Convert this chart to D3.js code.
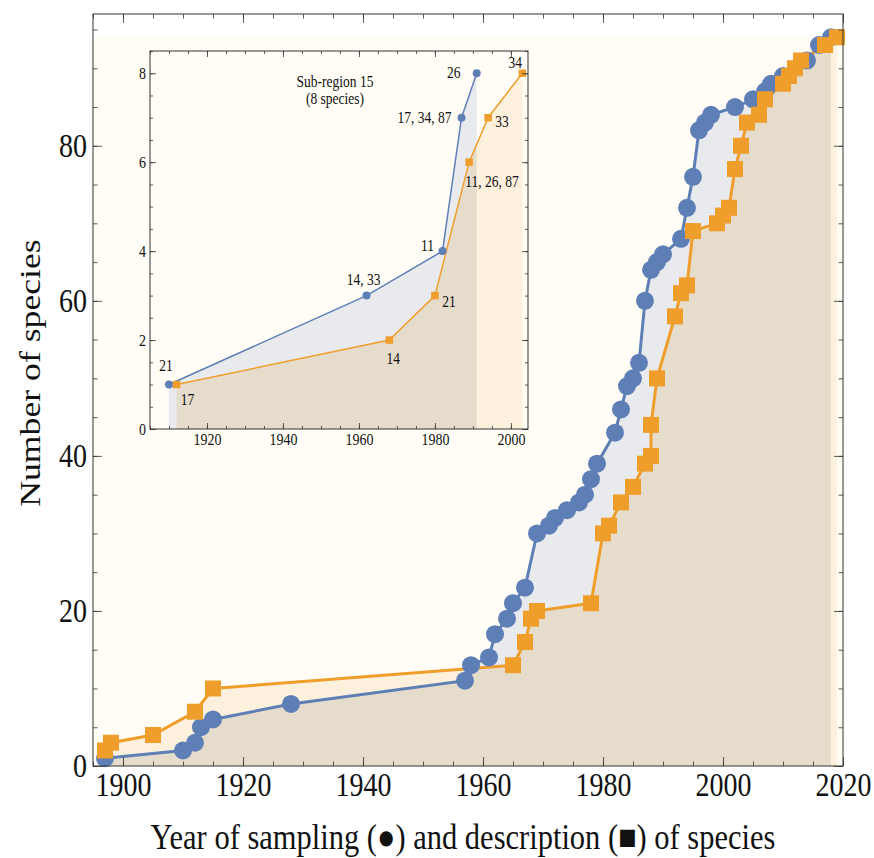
<!DOCTYPE html>
<html>
<head>
<meta charset="utf-8">
<script src="https://cdn.jsdelivr.net/npm/d3@7"></script>
<style>
body{margin:0;background:#fff}
svg{display:block}
text{font-family:"Liberation Serif","Times New Roman",serif;fill:#111}
</style>
</head>
<body>
<svg id="chart" width="874" height="858"></svg>
<script>
// main plot: sampling (blue circles) and description (orange squares)
var sampYears=[1897,1910,1912,1913,1915,1928,1957,1958,1961,1962,1964,1965,1967,1969,1971,1972,1974,1976,1977,1978,1979,1982,1983,1984,1985,1986,1987,1988,1989,1990,1993,1994,1995,1996,1997,1998,2002,2005,2007,2008,2010,2014,2016,2018];
var sampCounts=[1,2,3,5,6,8,11,13,14,17,19,21,23,30,31,32,33,34,35,37,39,43,46,49,50,52,60,64,65,66,68,72,76,82,83,84,85,86,87,88,89,91,93,94];
var descYears=[1897,1898,1905,1912,1915,1965,1967,1968,1969,1978,1980,1981,1983,1985,1987,1988,1988,1989,1992,1993,1994,1995,1999,2000,2001,2002,2003,2004,2006,2007,2010,2011,2012,2013,2017,2019];
var descCounts=[2,3,4,7,10,13,16,19,20,21,30,31,34,36,39,40,44,50,58,61,62,69,70,71,72,77,80,83,84,86,88,89,90,91,93,94];
var xTicks=[1900,1920,1940,1960,1980,2000,2020];
var yTicks=[0,20,40,60,80];

// inset: sub-region 15
var inSampYears=[1910,1962,1982,1987,1991];
var inSampCounts=[1,3,4,7,8];
var inSampLabels=["21","14, 33","11","17, 34, 87","26"];
var inDescYears=[1912,1968,1980,1989,1994,2003];
var inDescCounts=[1,2,3,6,7,8];
var inDescLabels=["17","14","21","11, 26, 87","33","34"];
var inXTicks=[1920,1940,1960,1980,2000];
var inYTicks=[0,2,4,6,8];

// label offsets (px) from the marker to the label centre, layout only
var inSampOff=[[-3,-19],[-3,-16],[-15,-5],[-37,0],[-23,0]];
var inDescOff=[[11,15],[4,19],[14,6],[23,20],[14,4],[-7,-10]];

var blue="#5d7fb6", orange="#ef9e2c";
var bgCol="#fffdf5", grayFill="#e9eaee", creamFill="#fdf1dd", tanFill="#e6dccb";
var sy=1.17; // text in the original is drawn a bit taller than wide

var svg=d3.select("#chart");
var defs=svg.append("defs");

function label(g,x,y,txt,size,anchor){
  return g.append("text")
    .attr("transform","translate("+x+","+y+") scale(1,"+sy+")")
    .attr("text-anchor",anchor||"middle").attr("dy","0.33em")
    .attr("font-size",size).text(txt);
}

function panel(g,opt){
  var x=d3.scaleLinear().domain(opt.xd).range(opt.xr);
  var y=d3.scaleLinear().domain(opt.yd).range(opt.yr);
  var s=d3.zip(opt.sy,opt.sc), d=d3.zip(opt.dy,opt.dc);
  var area=d3.area().x(function(p){return x(p[0]);}).y0(y(0)).y1(function(p){return y(p[1]);});
  var line=d3.line().x(function(p){return x(p[0]);}).y(function(p){return y(p[1]);});

  g.append("rect")
   .attr("x",opt.xr[0]).attr("width",opt.xr[1]-opt.xr[0])
   .attr("y",y(opt.bgTop)).attr("height",y(0)-y(opt.bgTop))
   .attr("fill",bgCol);

  defs.append("clipPath").attr("id",opt.id+"clip")
      .append("path").attr("d",area(d));
  g.append("path").attr("d",area(d)).attr("fill",creamFill);
  g.append("path").attr("d",area(s)).attr("fill",grayFill);
  g.append("path").attr("d",area(s)).attr("fill",tanFill)
   .attr("clip-path","url(#"+opt.id+"clip)");

  g.append("path").attr("d",line(s)).attr("fill","none")
   .attr("stroke",blue).attr("stroke-width",opt.lw);
  g.append("path").attr("d",line(d)).attr("fill","none")
   .attr("stroke",orange).attr("stroke-width",opt.lw);

  g.selectAll("circle.s").data(s).enter().append("circle")
   .attr("cx",function(p){return x(p[0]);})
   .attr("cy",function(p){return y(p[1]);})
   .attr("r",opt.r).attr("fill",blue);
  g.selectAll("rect.d").data(d).enter().append("rect")
   .attr("x",function(p){return x(p[0])-opt.sq/2;})
   .attr("y",function(p){return y(p[1])-opt.sq/2;})
   .attr("width",opt.sq).attr("height",opt.sq).attr("fill",orange);

  // frame ticks, pointing inward
  function ax(axis,tx,ty,vals,len,lab){
    var a=axis.tickValues(vals).tickSize(-len).tickPadding(opt.pad)
      .tickFormat(lab?d3.format("d"):"");
    var gg=g.append("g").attr("transform","translate("+tx+","+ty+")").call(a);
    gg.select(".domain").remove();
    gg.selectAll("line").attr("stroke","#333").attr("stroke-width",0.8);
    gg.selectAll("text").attr("font-size",opt.fs).attr("fill","#111")
      .attr("transform","scale(1,"+sy+")")
      .style("font-family","'Liberation Serif',serif");
    return gg;
  }
  var xmin=d3.range(Math.ceil(opt.xd[0]/5)*5,opt.xd[1]+0.01,5);
  var ymin=d3.range(0,opt.yd[1]+0.01,opt.ym);
  var X0=opt.xr[0],X1=opt.xr[1],Y0=opt.yr[0],Y1=opt.yr[1];
  ax(d3.axisBottom(x),0,Y0,opt.xt,opt.tl,true);
  ax(d3.axisBottom(x),0,Y0,xmin,opt.tl/2,false);
  ax(d3.axisTop(x),0,Y1,opt.xt,opt.tl,false);
  ax(d3.axisTop(x),0,Y1,xmin,opt.tl/2,false);
  ax(d3.axisLeft(y),X0,0,opt.yt,opt.tl,true);
  ax(d3.axisLeft(y),X0,0,ymin,opt.tl/2,false);
  ax(d3.axisRight(y),X1,0,opt.yt,opt.tl,false);
  ax(d3.axisRight(y),X1,0,ymin,opt.tl/2,false);

  g.append("rect").attr("x",X0).attr("y",Y1)
   .attr("width",X1-X0).attr("height",Y0-Y1)
   .attr("fill","none").attr("stroke","#333").attr("stroke-width",1);
  return {x:x,y:y};
}

var main=svg.append("g");
panel(main,{id:"m",xd:[1895,2020],xr:[93,843],yd:[0,97],yr:[766,14],
  sy:sampYears,sc:sampCounts,dy:descYears,dc:descCounts,bgTop:94,
  lw:3,r:9,sq:16,xt:xTicks,yt:yTicks,ym:5,tl:9,pad:6,fs:28});

var inset=svg.append("g");
var sc=panel(inset,{id:"i",xd:[1905,2004.5],xr:[150,528],yd:[0,8.5],yr:[429,51],
  sy:inSampYears,sc:inSampCounts,dy:inDescYears,dc:inDescCounts,bgTop:8.5,
  lw:1.5,r:4,sq:7.5,xt:inXTicks,yt:inYTicks,ym:0.5,tl:6,pad:4,fs:14});

d3.zip(inSampYears,inSampCounts,inSampLabels,inSampOff).forEach(function(p){
  label(inset,sc.x(p[0])+p[3][0],sc.y(p[1])+p[3][1],p[2],13.5);
});
d3.zip(inDescYears,inDescCounts,inDescLabels,inDescOff).forEach(function(p){
  label(inset,sc.x(p[0])+p[3][0],sc.y(p[1])+p[3][1],p[2],13.5);
});

label(inset,335,81.5,"Sub-region 15",13.5);
label(inset,335,98.5,"(8 species)",13.5);

label(svg,463,837,"Year of sampling (\u25CF) and description (\u25A0) of species",30.5);
svg.append("text").attr("transform","translate(30,373) rotate(-90) scale("+sy+",1)")
  .attr("text-anchor","middle").attr("dy","0.33em")
  .attr("font-size",30.5).text("Number of species");
</script>
</body>
</html>
